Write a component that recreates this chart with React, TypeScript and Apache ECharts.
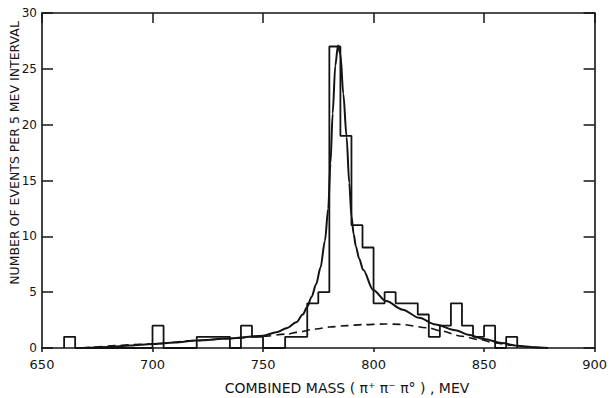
import React, { useEffect, useRef } from "react";
import * as echarts from "echarts";

// Histogram: left edge of each 5 MeV bin and the number of events in it
const binStarts = [
  660, 665, 670, 675, 680, 685, 690, 695, 700, 705, 710, 715, 720, 725, 730, 735,
  740, 745, 750, 755, 760, 765, 770, 775, 780, 785, 790, 795, 800, 805, 810, 815,
  820, 825, 830, 835, 840, 845, 850, 855, 860,
];
const binCounts = [
  1, 0, 0, 0, 0, 0, 0, 0, 2, 0, 0, 0, 1, 1, 1, 0,
  2, 1, 0, 0, 1, 1, 4, 5, 27, 19, 11, 9, 4, 5, 4, 4,
  3, 1, 2, 4, 2, 1, 2, 0, 1,
];
const binWidth = 5;

// Fitted curve (resonance + background)
const fitMass = [
  668, 680, 690, 700, 710, 720, 735, 750, 756, 761, 765, 768, 770, 772, 774,
  776, 778, 779.5, 780.5, 781.5, 782.7, 783.9, 785, 786.3, 787.8, 789, 790, 791,
  792, 793.5, 795.3, 799.8, 805.7, 813.2, 820.6, 828, 837, 842.9, 850, 857.9, 865,
  872.8, 879,
];
const fitEvents = [
  0, 0.1, 0.22, 0.35, 0.5, 0.68, 0.85, 1.1, 1.4, 1.8, 2.3, 3.0, 3.7, 4.6, 5.7,
  7.2, 9.6, 12.5, 16.5, 21, 25.3, 27.1, 26.3, 22.8, 18.9, 14.8, 11.8, 10.2,
  9.1, 8.0, 7.0, 5.2, 4.2, 3.43, 2.7, 2.1, 1.6, 1.19, 0.8, 0.45, 0.2,
  0.07, 0,
];

// Background curve (dashed)
const bgMass = [668, 700, 720, 735, 750, 761, 765, 774, 780, 788, 795, 805, 812, 825, 830, 840, 848, 855, 862, 870, 877];
const bgEvents = [0, 0.35, 0.68, 0.85, 1.05, 1.25, 1.4, 1.7, 1.88, 2.0, 2.09, 2.15, 2.12, 1.8, 1.55, 1.05, 0.75, 0.45, 0.25, 0.08, 0];

const xTicks = { min: 650, max: 900, interval: 50 };
const yTicks = { min: 0, max: 30, interval: 5 };

const xTitle = "COMBINED MASS ( π⁺ π⁻ π° ) , MEV";
const yTitle = "NUMBER OF EVENTS PER 5 MEV INTERVAL";

const INK = "#141414";
const FONT = "DejaVu Sans";

export default function App() {
  const ref = useRef<HTMLDivElement>(null);

  useEffect(() => {
    document.body.style.margin = "0";
    if (!ref.current) return;
    const chart = echarts.init(ref.current, undefined, { renderer: "svg" });

    const histData: [number, number][] = [[binStarts[0], 0]];
    binStarts.forEach((x, i) => histData.push([x, binCounts[i]]));
    histData.push([binStarts[binStarts.length - 1] + binWidth, 0]);

    const axisLine = { show: true, onZero: false, lineStyle: { color: INK, width: 1.6 } };
    const tickStyle = { color: INK, width: 1.5 };

    chart.setOption({
      animation: false,
      backgroundColor: "#ffffff",
      grid: { left: 42, right: 9, top: 13, bottom: 50 },
      xAxis: [
        {
          type: "value",
          position: "bottom",
          ...xTicks,
          axisLine,
          axisTick: { show: true, inside: false, length: 4, lineStyle: tickStyle },
          axisLabel: { color: INK, fontSize: 13, fontFamily: FONT, margin: 10 },
          splitLine: { show: false },
        },
        {
          type: "value",
          position: "top",
          ...xTicks,
          axisLine,
          axisTick: { show: true, inside: true, length: 10, lineStyle: tickStyle },
          axisLabel: { show: false },
          splitLine: { show: false },
        },
      ],
      yAxis: [
        {
          type: "value",
          position: "left",
          ...yTicks,
          axisLine,
          axisTick: { show: true, inside: true, length: 11, lineStyle: tickStyle },
          axisLabel: { color: INK, fontSize: 12, fontFamily: FONT, margin: 5 },
          splitLine: { show: false },
        },
        {
          type: "value",
          position: "right",
          ...yTicks,
          axisLine,
          axisTick: { show: true, inside: true, length: 11, lineStyle: tickStyle },
          axisLabel: { show: false },
          splitLine: { show: false },
        },
      ],
      series: [
        {
          type: "line",
          name: "background",
          data: bgMass.map((x, i) => [x, bgEvents[i]]),
          smooth: 0.3,
          smoothMonotone: "x",
          showSymbol: false,
          lineStyle: { color: INK, width: 1.6, type: [8, 5] },
          z: 2,
        },
        {
          type: "line",
          name: "histogram",
          data: histData,
          step: "end",
          showSymbol: false,
          lineStyle: { color: INK, width: 1.8 },
          z: 3,
        },
        {
          type: "line",
          name: "fit",
          data: fitMass.map((x, i) => [x, fitEvents[i]]),
          smooth: 0.3,
          smoothMonotone: "x",
          showSymbol: false,
          lineStyle: { color: INK, width: 2 },
          z: 4,
        },
      ],
      graphic: [
        {
          type: "text",
          x: 14,
          y: 153,
          rotation: Math.PI / 2,
          style: {
            text: yTitle,
            fill: INK,
            font: `12.5px '${FONT}'`,
            textAlign: "center",
            textVerticalAlign: "middle",
          },
        },
        {
          type: "text",
          x: 347,
          y: 388,
          style: {
            text: xTitle,
            fill: INK,
            font: `14px '${FONT}'`,
            textAlign: "center",
            textVerticalAlign: "middle",
          },
        },
      ],
    });

    return () => chart.dispose();
  }, []);

  return <div ref={ref} style={{ width: 610, height: 398 }} />;
}
